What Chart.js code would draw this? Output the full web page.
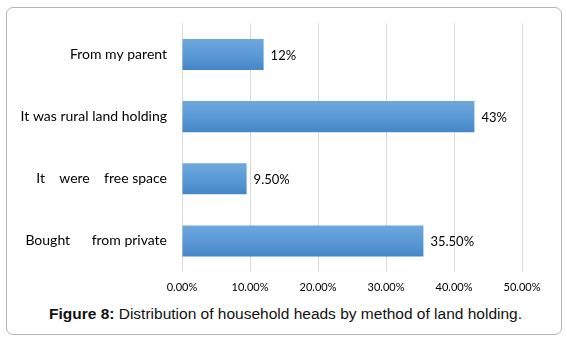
<!DOCTYPE html>
<html>
<head>
<meta charset="utf-8">
<script src="https://cdn.jsdelivr.net/npm/chart.js@4.4.1/dist/chart.umd.min.js"></script>
<style>
  body { margin: 0; background: #fff; }
  #wrap { position: relative; width: 567px; height: 341px; }
  #frame { position: absolute; left: 6px; top: 7px; width: 556px; height: 328px;
           border: 1px solid #b4b4b4; border-radius: 7px; box-sizing: border-box; }
  #cv { position: absolute; left: 0; top: 0; }
  #caption { position: absolute; left: 0; width: 571px; top: 305px; text-align: center;
             font-family: "Liberation Sans", Arial, sans-serif; font-size: 15.5px; color: #111; }
</style>
</head>
<body>
<div id="wrap">
  <div id="frame"></div>
  <canvas id="cv" width="567" height="300"></canvas>
  <div id="caption"><b>Figure 8:</b> Distribution of household heads by method of land holding.</div>
</div>
<script>
var categories = ["From my parent", "It was rural land holding", "It    were    free space", "Bought      from private"];
var values = [12, 43, 9.5, 35.5];
var valueLabels = ["12%", "43%", "9.50%", "35.50%"];
var xTicks = [0, 10, 20, 30, 40, 50];

// gradient per bar, top lighter to bottom darker
function barFill(context) {
	var chart = context.chart;
	var area = chart.chartArea;
	var y = chart.scales.y;
	if (!area || !y || context.dataIndex === undefined) return "#5b9bd5";
	var cy = y.getPixelForValue(context.dataIndex);
	var h = (area.bottom - area.top) / categories.length * 0.5;
	var g = chart.ctx.createLinearGradient(0, cy - h / 2, 0, cy + h / 2);
	g.addColorStop(0, "#6ea7dd");
	g.addColorStop(0.5, "#5b9ad6");
	g.addColorStop(1, "#4586c8");
	return g;
}

var valueLabelPlugin = {
	id: "valueLabels",
	afterDatasetsDraw: function(chart) {
		var ctx = chart.ctx;
		var meta = chart.getDatasetMeta(0);
		ctx.save();
		ctx.font = "13px Lato, 'Open Sans', sans-serif";
		ctx.fillStyle = "#000";
		ctx.textAlign = "left";
		ctx.textBaseline = "middle";
		meta.data.forEach(function(bar, i) {
			ctx.fillText(valueLabels[i], bar.x + 7, bar.y + 1);
		});
		ctx.restore();
	}
};

var ctx = document.getElementById("cv");

var chart = new Chart(ctx, {
	type: "bar",
	data: {
		labels: categories,
		datasets: [{
			data: values,
			backgroundColor: barFill,
			borderWidth: 0,
			categoryPercentage: 1,
			barPercentage: 0.5
		}]
	},
	options: {
		indexAxis: "y",
		responsive: false,
		animation: false,
		layout: { padding: { left: 0, right: 45, top: 19, bottom: 4 } },
		plugins: { legend: { display: false }, tooltip: { enabled: false } },
		scales: {
			x: {
				min: 0,
				max: 50,
				afterBuildTicks: function(axis) {
					axis.ticks = xTicks.map(function(v) { return { value: v }; });
				},
				afterFit: function(axis) { axis.height = 24; },
				grid: { color: "#d9d9d9", drawTicks: false },
				border: { display: false },
				ticks: {
					padding: 9,
					color: "#000",
					font: { family: "Lato", size: 11 },
					maxRotation: 0,
					callback: function(v) { return v.toFixed(2) + "%"; }
				}
			},
			y: {
				afterFit: function(axis) { axis.width = 182; },
				grid: { display: false, drawTicks: false },
				border: { display: false },
				ticks: {
					padding: 15,
					color: "#000",
					font: { family: "Lato", size: 14 }
				}
			}
		}
	},
	plugins: [valueLabelPlugin]
});
</script>
</body>
</html>
